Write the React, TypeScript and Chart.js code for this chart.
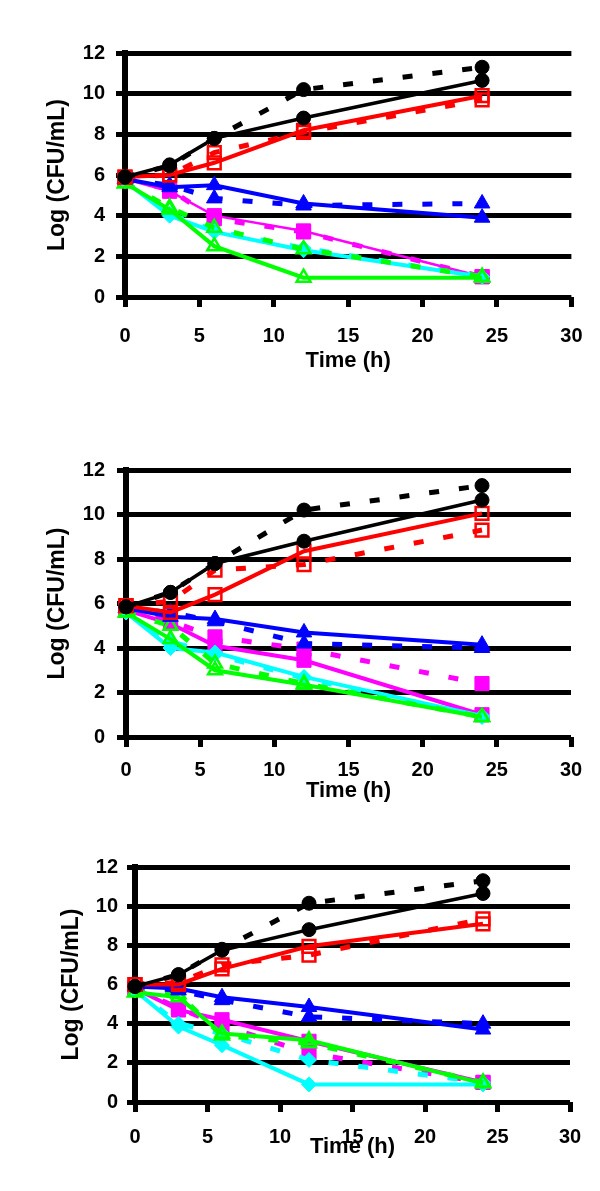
import React, { useEffect, useRef } from 'react';
import { Chart, registerables } from 'chart.js';

Chart.register(...registerables);

// ---------- data ----------
const times = [0, 3, 6, 12, 24];

// Panel 1
const blackSolidA = [5.9, 6.5, 7.8, 8.8, 10.65];
const blackDashA = [5.9, 6.45, 7.8, 10.2, 11.3];
const redSolidA = [5.9, 6.0, 6.6, 8.2, 9.9];
const redDashA = [5.9, 6.0, 7.1, 8.1, 9.7];
const blueSolidA = [5.8, 5.4, 5.5, 4.6, 3.9];
const blueDashA = [5.8, 5.5, 4.85, 4.5, 4.6];
const magSolidA = [5.8, 5.2, 4.0, 3.25, 1.0];
const magDashA = [5.8, 5.3, 3.85, 3.2, 1.0];
const cyanSolidA = [5.7, 4.0, 3.2, 2.3, 1.0];
const cyanDashA = [5.7, 4.1, 3.25, 2.4, 1.0];
const greenSolidA = [5.6, 4.3, 2.5, 0.95, 0.95];
const greenDashA = [5.6, 4.4, 3.4, 2.35, 1.0];

// Panel 2
const blackSolidB = [5.85, 6.5, 7.8, 8.8, 10.65];
const blackDashB = [5.85, 6.5, 7.8, 10.2, 11.3];
const redSolidB = [5.9, 5.6, 6.4, 8.35, 10.05];
const redDashB = [5.9, 6.1, 7.5, 7.75, 9.3];
const blueSolidB = [5.8, 5.4, 5.3, 4.7, 4.15];
const blueDashB = [5.8, 5.6, 5.2, 4.2, 4.0];
const magSolidB = [5.7, 5.1, 4.1, 3.45, 1.0];
const magDashB = [5.7, 5.2, 4.5, 3.95, 2.4];
const cyanSolidB = [5.6, 4.0, 3.8, 2.7, 0.95];
const cyanDashB = [5.6, 4.3, 3.7, 2.65, 0.9];
const greenSolidB = [5.6, 4.4, 3.0, 2.35, 0.9];
const greenDashB = [5.6, 5.0, 3.3, 2.4, 0.9];

// Panel 3
const blackSolidC = [5.9, 6.5, 7.75, 8.8, 10.65];
const blackDashC = [5.9, 6.5, 7.8, 10.15, 11.3];
const redSolidC = [6.0, 6.0, 6.8, 7.95, 9.1];
const redDashC = [6.0, 6.1, 7.0, 7.5, 9.35];
const blueSolidC = [5.9, 5.8, 5.35, 4.85, 3.7];
const blueDashC = [5.9, 5.7, 5.2, 4.35, 4.0];
const magSolidC = [5.8, 4.7, 4.2, 3.1, 1.0];
const magDashC = [5.8, 4.8, 3.9, 2.5, 1.0];
const cyanSolidC = [5.7, 3.85, 2.9, 0.9, 0.9];
const cyanDashC = [5.7, 4.0, 3.5, 2.15, 1.0];
const greenSolidC = [5.6, 5.35, 3.5, 3.15, 0.95];
const greenDashC = [5.6, 5.5, 3.4, 3.0, 1.0];

const xTitle = 'Time (h)';
const yTitle = 'Log (CFU/mL)';
const xMin = 0, xMax = 30, xStep = 5;
const yMin = 0, yMax = 12, yStep = 2;

// ---------- styles ----------
const FONT = "'Liberation Sans', Arial, Helvetica, sans-serif";
const DASH = [10, 20];

type Style = { color: string; dash: number[]; width: number; point: string; r: number; filled: boolean };

// first entry is drawn on top
const styles = (thinMagenta: boolean): Style[] => [
  { color: '#000000', dash: [], width: 3.5, point: 'circle', r: 7, filled: true },
  { color: '#000000', dash: DASH, width: 5, point: 'circle', r: 7, filled: true },
  { color: '#FF0000', dash: [], width: 4, point: 'rect', r: 9, filled: false },
  { color: '#FF0000', dash: DASH, width: 5, point: 'rect', r: 9, filled: false },
  { color: '#0000FF', dash: [], width: 4, point: 'triangle', r: 9, filled: true },
  { color: '#0000FF', dash: DASH, width: 5, point: 'triangle', r: 9, filled: true },
  { color: '#00FF00', dash: [], width: 4, point: 'triangle', r: 8, filled: false },
  { color: '#00FF00', dash: DASH, width: 5, point: 'triangle', r: 8, filled: false },
  { color: '#00FFFF', dash: [], width: 4, point: 'rectRot', r: 7.5, filled: true },
  { color: '#00FFFF', dash: DASH, width: 5, point: 'rectRot', r: 7.5, filled: true },
  { color: '#FF00FF', dash: [], width: thinMagenta ? 2.5 : 4, point: 'rect', r: 10, filled: true },
  { color: '#FF00FF', dash: DASH, width: 5, point: 'rect', r: 10, filled: true },
];

type PanelCfg = {
  top: number; h: number; L: number; R: number; T: number; B: number;
  xLabPad: number; xTitlePadB: number; yLabPad: number; yTitleX: number; yTick: number;
  thinMagenta: boolean; series: number[][];
};

const panels: PanelCfg[] = [
  {
    top: 0, h: 400, L: 125, R: 573, T: 53, B: 297, xLabPad: 17.5, xTitlePadB: 25.8, yLabPad: 11, yTitleX: 58, yTick: 9,
    thinMagenta: true,
    series: [blackSolidA, blackDashA, redSolidA, redDashA, blueSolidA, blueDashA, greenSolidA, greenDashA, cyanSolidA, cyanDashA, magSolidA, magDashA],
  },
  {
    top: 400, h: 420, L: 126, R: 571, T: 470, B: 737, xLabPad: 11.5, xTitlePadB: 16.3, yLabPad: 12, yTitleX: 58, yTick: 9,
    thinMagenta: false,
    series: [blackSolidB, blackDashB, redSolidB, redDashB, blueSolidB, blueDashB, greenSolidB, greenDashB, cyanSolidB, cyanDashB, magSolidB, magDashB],
  },
  {
    top: 820, h: 371, L: 135, R: 570, T: 867, B: 1102, xLabPad: 13, xTitlePadB: 30.8, yLabPad: 9, yTitleX: 72, yTick: 8,
    thinMagenta: false,
    series: [blackSolidC, blackDashC, redSolidC, redDashC, blueSolidC, blueDashC, greenSolidC, greenDashC, cyanSolidC, cyanDashC, magSolidC, magDashC],
  },
];

function Panel({ cfg }: { cfg: PanelCfg }) {
  const ref = useRef<HTMLCanvasElement | null>(null);
  useEffect(() => {
    const canvas = ref.current;
    if (!canvas) return;
    const st = styles(cfg.thinMagenta);
    const yTitleSize = 23;
    const chart = new Chart(canvas, {
      type: 'line',
      data: {
        datasets: cfg.series.map((vals, i) => ({
          data: times.map((t, j) => ({ x: t, y: vals[j] })),
          borderColor: st[i].color,
          borderWidth: st[i].width,
          borderDash: st[i].dash,
          borderCapStyle: 'butt',
          pointStyle: st[i].point as any,
          pointRadius: st[i].r,
          pointBackgroundColor: st[i].filled ? st[i].color : 'rgba(0,0,0,0)',
          pointBorderColor: st[i].color,
          pointBorderWidth: st[i].filled ? 1 : 2.5,
          tension: 0,
          fill: false,
          clip: false as any,
        })),
      },
      options: {
        responsive: false,
        animation: false,
        events: [],
        layout: { padding: { left: 0, right: 600 - cfg.R, top: cfg.T - cfg.top, bottom: 0 } },
        plugins: { legend: { display: false }, tooltip: { enabled: false } },
        scales: {
          x: {
            type: 'linear',
            min: xMin, max: xMax,
            grid: { drawOnChartArea: false, drawTicks: true, tickLength: 10, tickWidth: 5, tickColor: '#000' },
            border: { display: false },
            ticks: { stepSize: xStep, padding: cfg.xLabPad, color: '#000', maxRotation: 0, autoSkip: false,
              font: { family: FONT, size: 20, weight: 'bold' } },
            title: { display: true, text: xTitle, color: '#000',
              font: { family: FONT, size: 22, weight: 'bold' }, padding: { top: 0, bottom: cfg.xTitlePadB } },
            afterFit: (s: any) => { s.height = cfg.top + cfg.h - cfg.B; },
          },
          y: {
            type: 'linear',
            min: yMin, max: yMax,
            grid: { color: '#000', lineWidth: 5, drawTicks: true, tickLength: cfg.yTick, tickColor: '#000' },
            border: { display: true, color: '#000', width: 6 },
            ticks: { stepSize: yStep, padding: cfg.yLabPad, color: '#000',
              font: { family: FONT, size: 20, weight: 'bold' } },
            title: { display: true, text: yTitle, color: '#000',
              font: { family: FONT, size: yTitleSize, weight: 'bold' },
              padding: { top: cfg.yTitleX - (yTitleSize * 1.2) / 2, bottom: 0 } },
            afterFit: (s: any) => { s.width = cfg.L; },
          },
        },
      } as any,
    });
    return () => chart.destroy();
  }, [cfg]);
  return (
    <canvas
      ref={ref}
      width={600}
      height={cfg.h}
      style={{ position: 'absolute', left: 0, top: cfg.top, width: 600, height: cfg.h, display: 'block' }}
    />
  );
}

export default function App() {
  return (
    <div style={{ position: 'absolute', left: 0, top: 0, width: 600, height: 1191, background: '#fff' }}>
      {panels.map((p, i) => (
        <Panel key={i} cfg={p} />
      ))}
    </div>
  );
}
